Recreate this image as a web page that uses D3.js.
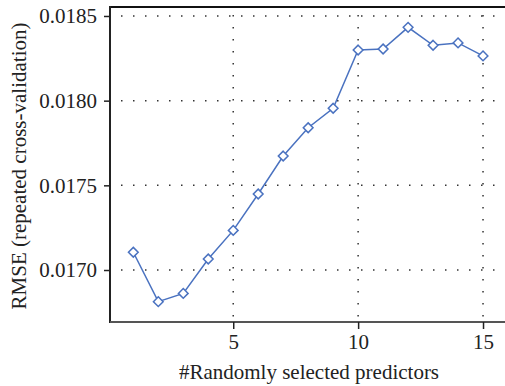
<!DOCTYPE html>
<html>
<head>
<meta charset="utf-8">
<script src="https://cdn.jsdelivr.net/npm/d3@7"></script>
</head>
<body style="margin:0">
<svg id="chart" width="505" height="386"></svg>
<script>
// number of randomly selected predictors (mtry)
const predictors = [1, 2, 3, 4, 5, 6, 7, 8, 9, 10, 11, 12, 13, 14, 15];
// RMSE from repeated cross-validation
const rmse = [0.017105, 0.016813, 0.016862, 0.017065, 0.017234, 0.017449, 0.017673,
  0.017840, 0.017955, 0.018299, 0.018305, 0.018433, 0.018327, 0.018341, 0.018264];
const xTicks = [5, 10, 15];
const yTicks = [0.0170, 0.0175, 0.0180, 0.0185];

const svg = d3.select('#chart');
const plotLeft = 110, plotTop = 7, plotBottom = 322, plotRight = 513;

const x = d3.scaleLinear().domain([0.067, 16.2]).range([plotLeft, plotRight]);
const y = d3.scaleLinear().domain([0.016693, 0.018553]).range([plotBottom, plotTop]);

// dotted grid
const grid = svg.append('g')
  .attr('stroke', '#333')
  .attr('stroke-width', 1.5)
  .attr('stroke-dasharray', '1.5,10.5');

grid.selectAll('line.h')
  .data(yTicks)
  .enter().append('line')
  .attr('x1', plotLeft + 11).attr('x2', 498)
  .attr('y1', d => y(d)).attr('y2', d => y(d));

grid.selectAll('line.v')
  .data(xTicks)
  .enter().append('line')
  .attr('x1', d => x(d)).attr('x2', d => x(d))
  .attr('y1', plotTop + 8).attr('y2', plotBottom - 2);

// frame: top, left, bottom
svg.append('line').attr('x1', plotLeft).attr('x2', 505).attr('y1', plotTop).attr('y2', plotTop)
  .attr('stroke', '#111').attr('stroke-width', 2);
svg.append('line').attr('x1', plotLeft).attr('x2', plotLeft).attr('y1', plotTop - 1).attr('y2', plotBottom + 1)
  .attr('stroke', '#222').attr('stroke-width', 2);
svg.append('line').attr('x1', plotLeft).attr('x2', 505).attr('y1', plotBottom).attr('y2', plotBottom)
  .attr('stroke', '#555').attr('stroke-width', 2);

// axes
const yAxis = svg.append('g')
  .attr('transform', `translate(${plotLeft},0)`)
  .call(d3.axisLeft(y).tickValues(yTicks).tickFormat(d3.format('.4f')).tickSize(6).tickPadding(7));
const xAxis = svg.append('g')
  .attr('transform', `translate(0,${plotBottom})`)
  .call(d3.axisBottom(x).tickValues(xTicks).tickSize(7).tickPadding(5));

[yAxis, xAxis].forEach(a => {
  a.attr('font-family', null).attr('font-size', null);
  a.select('.domain').remove();
  a.selectAll('.tick line').attr('stroke', '#222').attr('stroke-width', 1.5);
  a.selectAll('.tick text')
    .attr('font-family', 'Liberation Serif')
    .attr('font-size', 21)
    .style('font-family', 'Liberation Serif')
    .attr('fill', '#222');
});

// line + markers
svg.append('path')
  .datum(predictors)
  .attr('fill', 'none')
  .attr('stroke', '#4a72c0')
  .attr('stroke-width', 1.5)
  .attr('d', d3.line().x(d => x(d)).y((d, i) => y(rmse[i])));

svg.selectAll('path.pt')
  .data(predictors)
  .enter().append('path')
  .attr('class', 'pt')
  .attr('d', d3.symbol(d3.symbolDiamond2, 60))
  .attr('transform', (d, i) => `translate(${x(d)},${y(rmse[i])})`)
  .attr('fill', '#fff')
  .attr('stroke', '#4a72c0')
  .attr('stroke-width', 1.5);

// axis titles
svg.append('text')
  .attr('x', 309).attr('y', 379)
  .attr('text-anchor', 'middle')
  .attr('font-family', 'Liberation Serif').attr('font-size', 21)
  .style('font-family', 'Liberation Serif')
  .attr('fill', '#222')
  .text('#Randomly selected predictors');

svg.append('text')
  .attr('transform', 'translate(26,166) rotate(-90)')
  .attr('text-anchor', 'middle')
  .attr('font-family', 'Liberation Serif').attr('font-size', 21)
  .style('font-family', 'Liberation Serif')
  .attr('fill', '#222')
  .text('RMSE (repeated cross-validation)');
</script>
</body>
</html>
